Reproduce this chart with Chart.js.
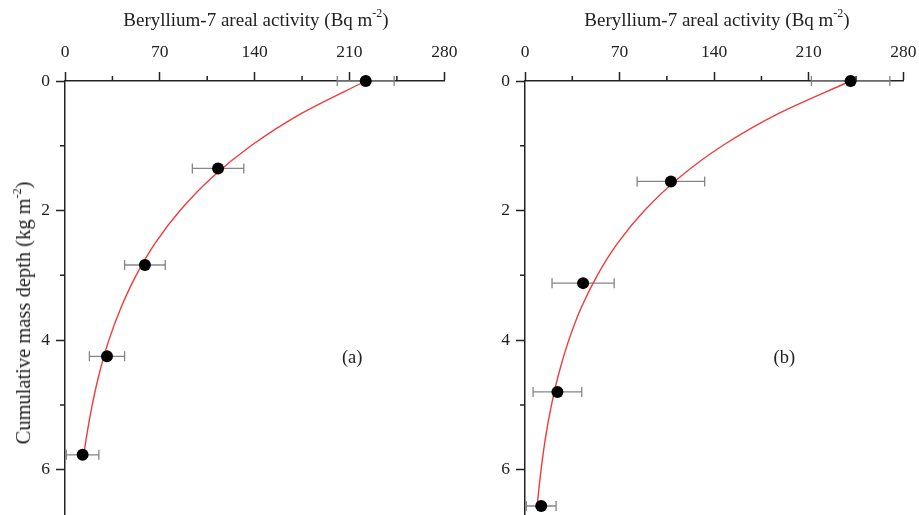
<!DOCTYPE html>
<html>
<head>
<meta charset="utf-8">
<script src="https://cdn.jsdelivr.net/npm/chart.js@4.4.0/dist/chart.umd.min.js"></script>
<style>
html,body{margin:0;padding:0;background:#fff;overflow:hidden}
#wrap{position:relative;width:919px;height:515px;font-family:'Liberation Serif','Times New Roman',serif;color:#222;overflow:hidden}
canvas{position:absolute;top:0}
.xt{position:absolute;top:9px;font-size:19px;white-space:nowrap;transform:translateX(-50%);line-height:22px}
.yt{position:absolute;left:23px;top:313px;font-size:20.5px;white-space:nowrap;transform:translate(-50%,-50%) rotate(-90deg);line-height:22px}
sup{font-size:12px;line-height:0;vertical-align:0;position:relative;top:-9px}
</style>
</head>
<body>
<div id="wrap">
  <canvas id="chartA" width="460" height="523" style="left:0"></canvas>
  <canvas id="chartB" width="459" height="523" style="left:460px"></canvas>
  <div class="xt" style="left:256px">Beryllium-7 areal activity (Bq m<sup>-2</sup>)</div>
  <div class="xt" style="left:717px">Beryllium-7 areal activity (Bq m<sup>-2</sup>)</div>
  <div class="yt">Cumulative mass depth (kg m<sup>-2</sup>)</div>
</div>
<script>
// ─── Data ───
// panel (a)
const depthA    = [0, 1.35, 2.84, 4.25, 5.77];
const activityA = [222, 113, 59, 31, 13];
const errA      = [21, 19, 15, 13, 12];
const fitDepthA = [0, 0.5, 1, 1.5, 2, 2.5, 3, 3.5, 4, 4.5, 5, 5.5, 5.75];
const fitA      = [222, 174.6, 137.3, 107.9, 84.9, 66.7, 52.5, 41.3, 32.4, 25.5, 20.1, 15.8, 14.0];
// panel (b)
const depthB    = [0, 1.55, 3.12, 4.80, 6.56];
const activityB = [241, 108, 43, 24, 12];
const errB      = [29, 25, 23, 18, 11];
const fitDepthB = [0, 0.5, 1, 1.5, 2, 2.5, 3, 3.5, 4, 4.5, 5, 5.5, 6, 6.57];
const fitB      = [241, 187.8, 146.1, 113.6, 88.4, 68.7, 53.5, 41.6, 32.4, 25.2, 19.6, 15.2, 11.9, 8.9];
// axes
const xTicksMajor = [0, 70, 140, 210, 280];
const xTicksMinor = [35, 105, 175, 245];
const yTicksMinor = [1, 3, 5];

const AXIS = '#222';
const FONT = {family:"'Liberation Serif', 'Times New Roman', serif", size:17.5};

// error bars, minor ticks and panel letter
const overlay = {
    id:'overlay',
    beforeDatasetsDraw(chart, args, o){
        const {ctx, scales:{x, y}} = chart;
        ctx.save();
        ctx.strokeStyle = '#858585'; ctx.lineWidth = 1.3;
        o.depth.forEach((d, i) => {
            const py = y.getPixelForValue(d);
            const x1 = x.getPixelForValue(o.act[i] - o.err[i]);
            const x2 = x.getPixelForValue(o.act[i] + o.err[i]);
            ctx.beginPath();
            ctx.moveTo(x1, py); ctx.lineTo(x2, py);
            ctx.moveTo(x1, py - 5); ctx.lineTo(x1, py + 5);
            ctx.moveTo(x2, py - 5); ctx.lineTo(x2, py + 5);
            ctx.stroke();
        });
        ctx.restore();
    },
    afterDraw(chart, args, o){
        const {ctx, chartArea:a, scales:{x, y}} = chart;
        ctx.save();
        ctx.strokeStyle = AXIS; ctx.lineWidth = 1.5;
        ctx.beginPath();
        xTicksMinor.forEach(v => { const px = x.getPixelForValue(v); ctx.moveTo(px, a.top); ctx.lineTo(px, a.top - 5); });
        yTicksMinor.forEach(v => { const py = y.getPixelForValue(v); ctx.moveTo(a.left, py); ctx.lineTo(a.left - 5, py); });
        ctx.stroke();
        ctx.fillStyle = AXIS;
        ctx.font = `${FONT.size + 1}px ${FONT.family}`;
        ctx.textAlign = 'center'; ctx.textBaseline = 'middle';
        ctx.fillText(o.label, x.getPixelForValue(o.lx), y.getPixelForValue(o.ly));
        ctx.restore();
    }
};

function noPad(s){ s.paddingLeft = 0; s.paddingRight = 0; s.paddingTop = 0; s.paddingBottom = 0; }

function makePanel(id, depth, act, err, fitD, fitV, label, lx, ly){
    return new Chart(document.getElementById(id), {
        type:'scatter',
        data:{datasets:[
            {data:depth.map((d, i) => ({x:act[i], y:d})),
                pointRadius:6, pointBackgroundColor:'#000', pointBorderColor:'#000', pointBorderWidth:0, clip:false},
            {type:'line', indexAxis:'y', data:fitD.map((d, i) => ({x:fitV[i], y:d})),
                borderColor:'#f23a3a', borderWidth:1.4, pointRadius:0, fill:false,
                cubicInterpolationMode:'monotone', clip:false}
        ]},
        options:{
            responsive:false, animation:false, devicePixelRatio:1,
            layout:{padding:{left:0, right:15.7, top:0, bottom:0}},
            plugins:{legend:{display:false}, tooltip:{enabled:false},
                overlay:{depth, act, err, label, lx, ly}},
            scales:{
                x:{type:'linear', position:'top', min:0, max:280,
                    afterBuildTicks(s){ s.ticks = xTicksMajor.map(v => ({value:v})); },
                    ticks:{font:FONT, color:AXIS, padding:9, maxRotation:0},
                    grid:{drawOnChartArea:false, drawTicks:true, tickLength:9, tickColor:AXIS, tickWidth:1.5},
                    border:{display:true, color:AXIS, width:1.5},
                    afterFit(s){ s.height = 81; noPad(s); }},
                y:{type:'linear', reverse:true, min:0, max:6.73,
                    ticks:{stepSize:2, includeBounds:false, font:FONT, color:AXIS, padding:6},
                    grid:{drawOnChartArea:false, drawTicks:true, tickLength:9, tickColor:AXIS, tickWidth:1.5},
                    border:{display:true, color:AXIS, width:1.5},
                    afterFit(s){ s.width = 65; noPad(s); }}
            }
        },
        plugins:[overlay]
    });
}

makePanel('chartA', depthA, activityA, errA, fitDepthA, fitA, '(a)', 212, 4.28);
makePanel('chartB', depthB, activityB, errB, fitDepthB, fitB, '(b)', 192, 4.28);
</script>
</body>
</html>
